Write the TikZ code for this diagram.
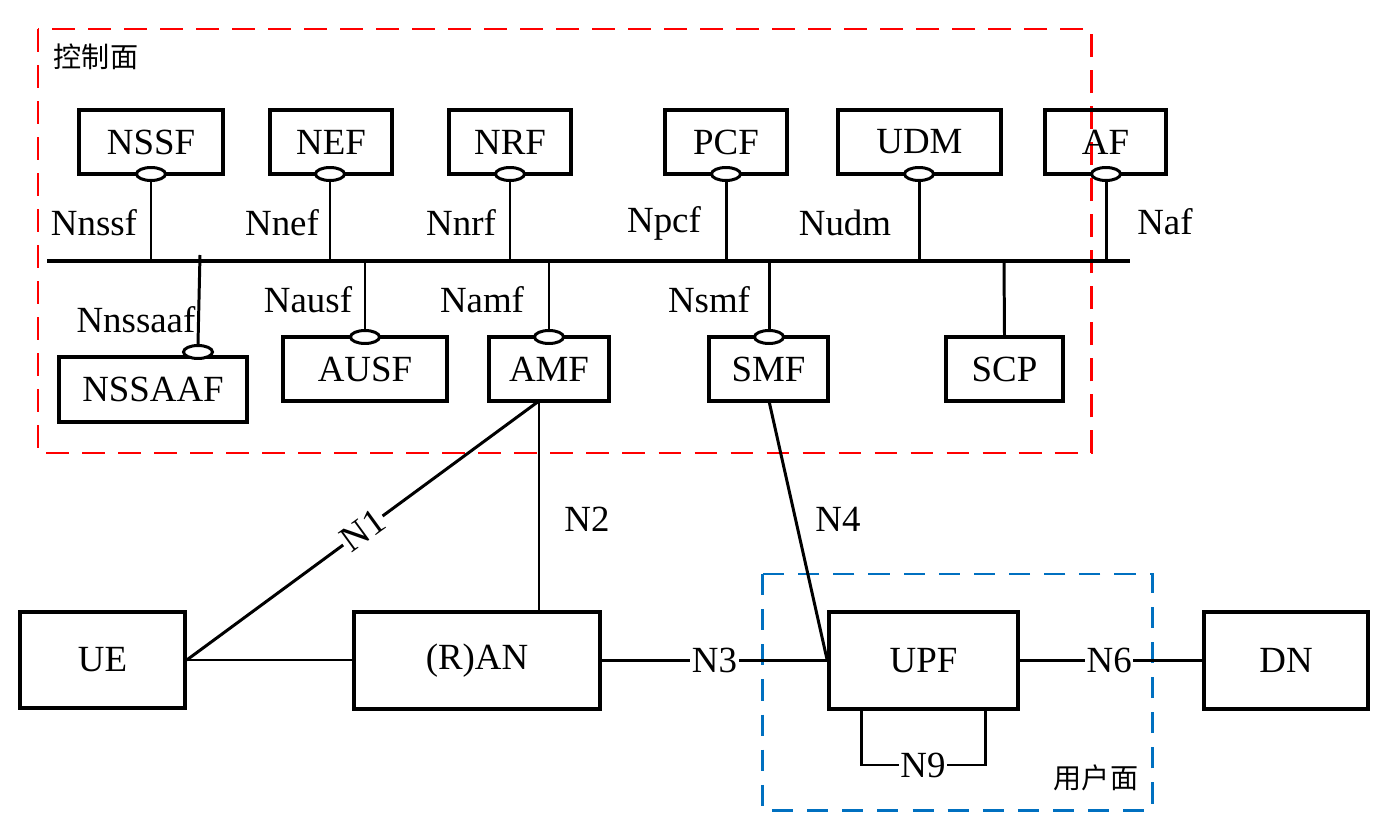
\documentclass[tikz,border=0pt]{standalone}
\usepackage{fontspec}
\setmainfont{Liberation Serif}
\newfontfamily\cjk{Noto Sans CJK SC}
\usetikzlibrary{shapes.geometric}
\begin{document}
\begin{tikzpicture}[x=0.02cm,y=-0.02cm,
 nf/.style={draw, line width=2pt, rectangle, inner sep=0pt, font=\fontsize{21}{25}\selectfont, minimum height=1.28cm},
 port/.style={draw, ellipse, fill=white, line width=1.7pt, minimum width=0.58cm, minimum height=0.26cm, inner sep=0pt},
 link/.style={line width=1.7pt},
 bus/.style={line width=2.2pt},
 lbl/.style={font=\fontsize{21}{25}\selectfont, inner sep=1pt},
 onlbl/.style={lbl, fill=white},
 zone/.style={font=\cjk\fontsize{16}{18}\selectfont, inner sep=0pt},
 cpbox/.style={draw=red, line width=1.7pt, dash pattern=on 13pt off 7.5pt},
 upbox/.style={draw={rgb,255:red,0;green,112;blue,192}, line width=1.7pt, dash pattern=on 12pt off 8pt}
]
\useasboundingbox (0,0) rectangle (1373,821);

% zones
\draw[cpbox] (38,29) rectangle (1091,453);
\draw[upbox] (762,574) rectangle (1152,810);
\node[zone] (cpt) at (96,57) {控制面};
\node[zone] (upt) at (1096,778) {用户面};

% top NFs
\node[nf, minimum width=2.88cm] (nssf) at (151,142) {NSSF};
\node[nf, minimum width=2.44cm] (nef) at (331,142) {NEF};
\node[nf, minimum width=2.44cm] (nrf) at (510,142) {NRF};
\node[nf, minimum width=2.44cm] (pcf) at (726,142) {PCF};
\node[nf, minimum width=3.26cm] (udm) at (919.5,142) {UDM};
\node[nf, minimum width=2.42cm] (af) at (1105.5,142) {AF};

% bottom NFs
\node[nf, minimum width=3.76cm, minimum height=1.3cm] (nssaaf) at (153,389.5) {NSSAAF};
\node[nf, minimum width=3.28cm] (ausf) at (365,369) {AUSF};
\node[nf, minimum width=2.4cm] (amf) at (549,369) {AMF};
\node[nf, minimum width=2.38cm] (smf) at (768.5,369) {SMF};
\node[nf, minimum width=2.34cm] (scp) at (1004.5,369) {SCP};

% bus
\coordinate (busL) at (47,261);
\coordinate (busR) at (1130,261);
\draw[bus] (busL) -- (busR);

% service ports
\node[port] (pnssf) at (151,174) {};
\node[port] (pnef) at (330,174) {};
\node[port] (pnrf) at (510,174) {};
\node[port] (ppcf) at (726,174) {};
\node[port] (pudm) at (919,174) {};
\node[port] (paf) at (1106,174) {};
\node[port] (pnssaaf) at (198,352) {};
\node[port] (pausf) at (365,337) {};
\node[port] (pamf) at (549,337) {};
\node[port] (psmf) at (769,337) {};

\coordinate (bnssf) at (151,261);
\coordinate (bnef) at (330,261);
\coordinate (bnrf) at (510,261);
\coordinate (bpcf) at (726,261);
\coordinate (budm) at (919,261);
\coordinate (baf) at (1106,261);
\coordinate (bnssaaf) at (200,255);
\coordinate (bausf) at (365,261);
\coordinate (bamf) at (549,261);
\coordinate (bsmf) at (769,261);
\coordinate (bscp) at (1004,261);

\draw[link] (pnssf.south) -- (bnssf);
\draw[link] (pnef.south) -- (bnef);
\draw[link] (pnrf.south) -- (bnrf);
\draw[link] (ppcf.south) -- (bpcf);
\draw[link] (pudm.south) -- (budm);
\draw[link] (paf.south) -- (baf);
\draw[link] (bnssaaf) -- (pnssaaf.north);
\draw[link] (bausf) -- (pausf.north);
\draw[link] (bamf) -- (pamf.north);
\draw[link] (bsmf) -- (psmf.north);
\draw[link] (bscp) -- (scp.north);

% interface labels
\node[lbl] (lnssf) at (94,223) {Nnssf};
\node[lbl] (lnef) at (282,223) {Nnef};
\node[lbl] (lnrf) at (461,223) {Nnrf};
\node[lbl] (lpcf) at (664,223) {Npcf};
\node[lbl] (ludm) at (845,223) {Nudm};
\node[lbl] (laf) at (1165,222) {Naf};
\node[lbl] (lnssaaf) at (136,320) {Nnssaaf};
\node[lbl] (lausf) at (308,300) {Nausf};
\node[lbl] (lamf) at (482,300) {Namf};
\node[lbl] (lsmf) at (709,300) {Nsmf};

% access / user plane
\node[nf, minimum width=3.3cm, minimum height=1.92cm] (ue) at (102.5,660) {UE};
\node[nf, minimum width=4.92cm, minimum height=1.94cm] (ran) at (477,660.5) {(R)AN};
\node[nf, minimum width=3.78cm, minimum height=1.94cm] (upf) at (923.5,660.5) {UPF};
\node[nf, minimum width=3.28cm, minimum height=1.94cm] (dn) at (1286,660.5) {DN};

\coordinate (amfb) at (539,401);
\coordinate (smfb) at (769,401);
\coordinate (n9l) at (861,709);
\coordinate (n9r) at (985,709);
\coordinate (n9bl) at (861,765);
\coordinate (n9br) at (985,765);

\draw[link] (ue.east) -- (ue.east -| ran.west);
\draw[link] (ue.east) -- node[onlbl, rotate=36, pos=0.5] (ln1) {N1} (amfb);
\draw[link] (amfb) -- (amfb |- ran.north);
\node[lbl] (ln2) at (587,519) {N2};
\draw[link] (ran.east) -- node[onlbl, pos=0.5] (ln3) {N3} (upf.west);
\draw[link] (smfb) -- (upf.west);
\node[lbl] (ln4) at (838,519) {N4};
\draw[link] (upf.east) -- node[onlbl, pos=0.49] (ln6) {N6} (dn.west);
\draw[link] (n9l) -- (n9bl) -- node[onlbl] (ln9) {N9} (n9br) -- (n9r);
\end{tikzpicture}
\end{document}
